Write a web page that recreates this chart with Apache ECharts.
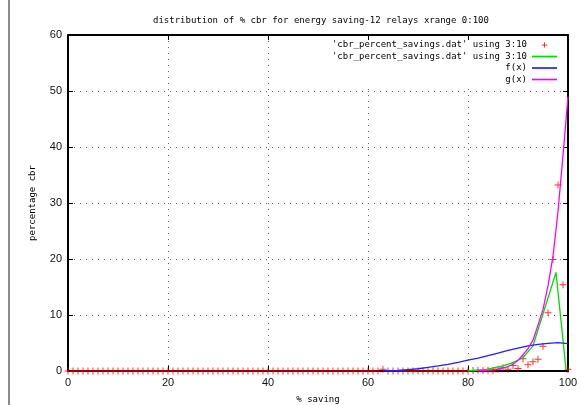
<!DOCTYPE html>
<html><head><meta charset="utf-8">
<script src="https://cdn.jsdelivr.net/npm/echarts@6/dist/echarts.min.js"></script>
<style>html,body{margin:0;padding:0;background:#fff}#c{width:587px;height:405px}</style>
</head><body><div id="c"></div>
<script>
const titleText = "distribution of % cbr for energy saving-12 relays xrange 0:100";
const xAxisName = "% saving";
const yAxisName = "percentage cbr";
const xTicks = [0, 20, 40, 60, 80, 100];
const yTicks = [0, 10, 20, 30, 40, 50, 60];
const seriesNames = ["pts", "lines", "f", "g"];
const legendLabels = ["'cbr_percent_savings.dat' using 3:10", "'cbr_percent_savings.dat' using 3:10", "f(x)", "g(x)"];

// red points (x = 0..100)
const pointX = [
  0,1,2,3,4,5,6,7,8,9,
  10,11,12,13,14,15,16,17,18,19,
  20,21,22,23,24,25,26,27,28,29,
  30,31,32,33,34,35,36,37,38,39,
  40,41,42,43,44,45,46,47,48,49,
  50,51,52,53,54,55,56,57,58,59,
  60,61,62,63,64,65,66,67,68,69,
  70,71,72,73,74,75,76,77,78,79,
  80,81,82,83,84,85,86,87,88,89,
  90,91,92,93,94,95,96,97,98,99,
  100];
const pointY = [
  0,0,0,0,0,0,0,0,0,0,
  0,0,0,0,0,0,0,0,0,0,
  0,0,0,0,0,0,0,0,0,0,
  0,0,0,0,0,0,0,0,0,0,
  0,0,0,0,0,0,0,0,0,0,
  0,0,0,0,0,0,0,0,0,0,
  0,0,0,0.3,0,0,0,0,0,0,
  0,0,0,0,0,0,0,0,0,0,
  0,0.1,0.15,0.1,0.15,0.1,0.3,0.6,0.3,1.0,
  0.45,2.2,1.1,1.65,2.1,4.4,10.4,19.9,33.2,15.4,
  0.3];

// green line
const lineX = [80, 83.7, 87, 89, 91, 93, 97.6, 99.6];
const lineY = [0, 0.3, 0.9, 1.5, 2.4, 4.5, 17.6, 0.3];

// f(x) blue
const fX = [63, 66, 68, 70, 72, 74, 76, 78, 80, 82, 84, 86, 88, 90, 92, 94, 96, 98, 100];
const fY = [0, 0.1, 0.25, 0.4, 0.65, 0.9, 1.2, 1.55, 1.95, 2.3, 2.75, 3.2, 3.7, 4.1, 4.5, 4.75, 4.95, 5.05, 4.9];

// g(x) magenta
const gX = [82, 84, 86, 87, 88, 89, 90, 91, 92, 93, 94, 95, 96, 97, 98, 99, 100];
const gY = [0, 0.15, 0.35, 0.55, 0.8, 1.2, 1.9, 2.9, 4.0, 5.5, 8.2, 11.0, 15.2, 20.5, 28.5, 38.5, 49];

const pair = (xs, ys) => xs.map((x, i) => [x, ys[i]]);
const mono = "DejaVu Sans Mono";
const sans = "Liberation Sans";
const plusPath = 'path://M0,4.3H10V5.7H0Z M4.3,0H5.7V10H4.3Z';
const plusIcon = 'path://M0,0h.01v.01z M12,12h.01v.01z M2.5,5.3h7v1.4h-7z M5.3,2.5h1.4v7h-1.4z';
const lineIcon = 'path://M0,0H30V2H0Z';
const colors = ['#ff0000', '#00dd00', '#2020ff', '#ff00ff'];

const xMin = xTicks[0], xMax = xTicks[xTicks.length - 1], xInt = xTicks[1] - xTicks[0];
const yMin = yTicks[0], yMax = yTicks[yTicks.length - 1], yInt = yTicks[1] - yTicks[0];

const mirrorAxis = {
  axisLine: { show: true, onZero: false, lineStyle: { color: '#000', width: 2 } },
  axisTick: { show: true, inside: true, length: 5, lineStyle: { color: '#000' } },
  axisLabel: { show: false },
  splitLine: { show: false }
};

const chart = echarts.init(document.getElementById('c'), null, { renderer: 'canvas' });
chart.setOption({
  animation: false,
  backgroundColor: '#fff',
  title: {
    text: titleText,
    left: 148, top: 11,
    textStyle: { fontFamily: mono, fontSize: 9, fontWeight: 'normal', color: '#000' }
  },
  legend: {
    orient: 'vertical',
    right: 25, top: 40.5,
    align: 'right',
    itemWidth: 25, itemHeight: 9, itemGap: 2.5,
    padding: [0, 5, 4, 5],
    backgroundColor: '#fff',
    selectedMode: false,
    formatter: name => legendLabels[seriesNames.indexOf(name)],
    textStyle: { fontFamily: mono, fontSize: 9, color: '#000', width: 200, overflow: 'none' },
    data: [
      { name: seriesNames[0], icon: plusIcon, itemStyle: { color: colors[0] } },
      { name: seriesNames[1], icon: lineIcon, itemStyle: { color: colors[1] } },
      { name: seriesNames[2], icon: lineIcon, itemStyle: { color: colors[2] } },
      { name: seriesNames[3], icon: lineIcon, itemStyle: { color: colors[3] } }
    ]
  },
  grid: { left: 68, right: 19, top: 35, bottom: 34, outerBoundsMode: 'none', containLabel: false },
  xAxis: [{
    type: 'value', min: xMin, max: xMax, interval: xInt,
    name: xAxisName, nameLocation: 'middle', nameGap: 24,
    nameTextStyle: { fontFamily: mono, fontSize: 9, color: '#000' },
    axisLine: { show: true, onZero: false, lineStyle: { color: '#000', width: 2 } },
    axisTick: { show: true, inside: true, length: 5, lineStyle: { color: '#000' } },
    axisLabel: { fontFamily: sans, fontSize: 11, color: '#111', margin: 6 },
    splitLine: { show: true, lineStyle: { color: '#666', width: 1, type: [1, 5] } }
  }, Object.assign({
    type: 'value', min: xMin, max: xMax, interval: xInt, position: 'top'
  }, mirrorAxis)],
  yAxis: [{
    type: 'value', min: yMin, max: yMax, interval: yInt,
    name: yAxisName, nameLocation: 'middle', nameGap: 31, nameRotate: 90,
    nameTextStyle: { fontFamily: mono, fontSize: 9, color: '#000' },
    axisLine: { show: true, onZero: false, lineStyle: { color: '#000', width: 2 } },
    axisTick: { show: true, inside: true, length: 5, lineStyle: { color: '#000' } },
    axisLabel: { fontFamily: sans, fontSize: 11, color: '#111', margin: 6 },
    splitLine: { show: true, lineStyle: { color: '#666', width: 1, type: [1, 5] } }
  }, Object.assign({
    type: 'value', min: yMin, max: yMax, interval: yInt, position: 'right'
  }, mirrorAxis)],
  series: [
    {
      name: seriesNames[0], type: 'scatter', xAxisIndex: 0, yAxisIndex: 0,
      data: pair(pointX, pointY),
      symbol: plusPath, symbolSize: 7,
      itemStyle: { color: colors[0] }, z: 3
    },
    {
      name: seriesNames[1], type: 'line', data: pair(lineX, lineY),
      showSymbol: false, lineStyle: { color: colors[1], width: 1.3 },
      itemStyle: { color: colors[1] }, z: 4
    },
    {
      name: seriesNames[2], type: 'line', data: pair(fX, fY),
      showSymbol: false, lineStyle: { color: colors[2], width: 1.3 },
      itemStyle: { color: colors[2] }, z: 5
    },
    {
      name: seriesNames[3], type: 'line', data: pair(gX, gY),
      showSymbol: false, lineStyle: { color: colors[3], width: 1.3 },
      itemStyle: { color: colors[3] }, z: 6
    }
  ],
  graphic: [{
    type: 'line', shape: { x1: 9, y1: 0, x2: 9, y2: 405 },
    style: { stroke: '#666', lineWidth: 1.5 }
  }]
});
</script></body></html>
